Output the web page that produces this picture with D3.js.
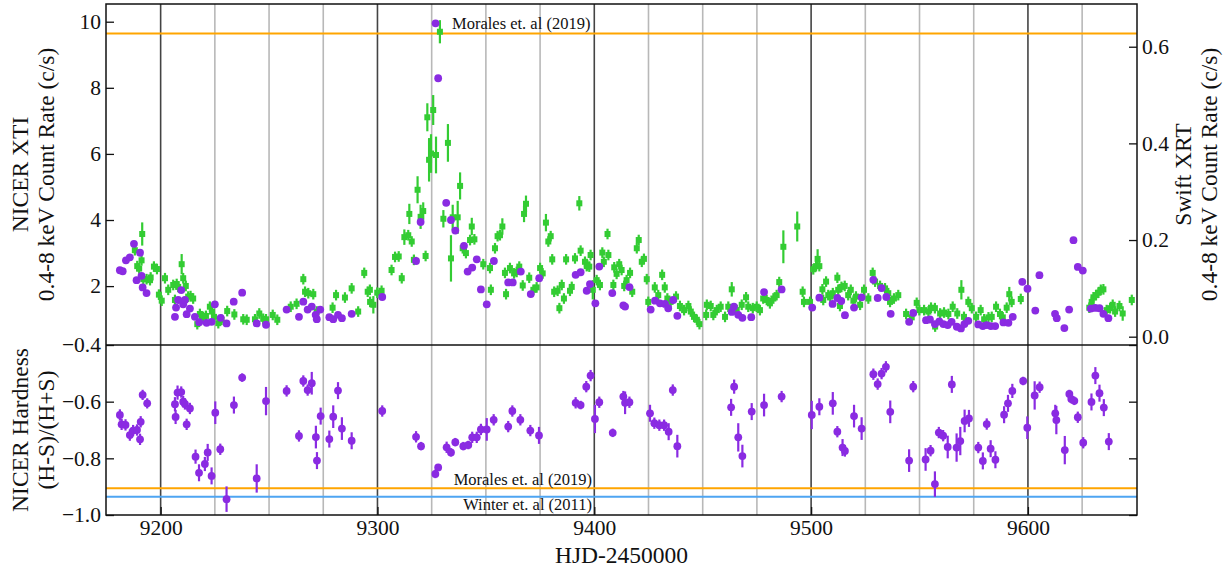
<!DOCTYPE html>
<html><head><meta charset="utf-8">
<script src="https://cdn.jsdelivr.net/npm/d3@7"></script>
<style>body{margin:0;background:#fff}svg{display:block}text{font-family:"Liberation Serif","Times New Roman",Times,serif;fill:#111}</style>
</head><body><svg id="c" width="1232" height="570" font-family="Liberation Serif"></svg>
<script>
// NICER XTI count rate (left axis) : [HJD-2450000, rate c/s]
const nicerDays = [9181.2,9182.5,9184.0,9185.8,9187.7,9188.9,9190.5,9191.2,9191.7,9193.5,9206.6,9207.1,9208.1,9209.5,9210.4,9211.2,9212.0,9213.5,9215.8,9217.8,9221.2,9223.5,9225.0,9227.7,9230.4,9233.7,9237.6,9244.3,9248.6,9258.1,9263.8,9265.8,9267.8,9269.7,9271.5,9272.0,9273.6,9277.8,9279.6,9281.8,9283.6,9288.1,9302.2,9317.8,9319.9,9326.8,9328.0,9331.7,9333.9,9335.9,9339.9,9341.6,9343.7,9345.8,9347.7,9350.4,9353.7,9360.3,9362.4,9366.1,9370.7,9374.6,9391.4,9393.7,9396.5,9398.0,9400.5,9402.3,9408.3,9413.4,9414.2,9416.2,9426.0,9428.0,9430.3,9432.6,9434.1,9436.4,9438.3,9463.4,9464.4,9466.4,9468.3,9472.4,9478.3,9486.4,9500.5,9503.8,9509.9,9512.1,9513.9,9515.6,9519.8,9523.3,9528.7,9530.7,9532.5,9534.7,9536.7,9545.2,9547.1,9553.0,9554.8,9557.1,9559.1,9561.0,9563.0,9564.8,9567.2,9569.1,9570.7,9572.5,9577.1,9579.2,9581.0,9582.9,9584.9,9588.7,9591.0,9593.0,9597.4,9599.8,9603.4,9605.3,9612.5,9613.3,9616.8,9619.0,9621.0,9623.0,9625.3,9629.0,9631.0,9633.0,9634.8,9637.1];
const nicerRate = [2.48,2.45,2.78,2.87,3.28,2.18,3.01,2.31,1.96,1.79,1.07,1.35,1.58,1.88,1.45,1.58,1.15,1.32,1.07,0.91,0.89,0.92,1.45,1.04,0.87,1.53,1.80,0.87,0.83,1.29,1.07,1.53,1.29,1.38,1.13,1.00,1.29,1.06,1.00,1.13,1.03,1.16,1.67,2.76,3.94,9.95,8.29,4.52,4.00,3.68,3.22,2.44,2.56,2.81,1.90,1.45,2.76,2.11,2.11,2.44,1.76,2.24,2.34,2.42,1.86,2.06,1.48,2.59,1.79,1.42,1.38,1.97,1.29,1.56,1.48,1.46,1.33,1.58,1.10,1.22,1.38,1.13,1.04,1.06,1.82,1.90,1.35,1.65,1.46,1.64,1.55,1.12,1.35,1.66,2.19,1.64,1.94,1.67,1.16,0.92,1.19,0.97,0.99,0.85,0.93,0.85,0.82,0.92,0.77,0.72,0.85,0.95,0.84,0.79,0.82,0.79,0.79,0.90,0.89,1.07,2.13,1.92,1.26,2.33,1.16,1.03,0.73,1.29,3.39,2.58,2.47,1.32,1.34,1.33,1.16,1.03];

// Swift XRT count rate (right axis)
const swiftDays = [9188.1,9189.2,9190.1,9191.2,9191.5,9192.0,9193.5,9195.1,9195.4,9196.9,9198.3,9199.2,9200.5,9202.0,9203.5,9205.8,9206.6,9207.4,9208.1,9209.7,9210.4,9211.6,9212.7,9213.8,9215.0,9216.9,9218.1,9219.6,9220.9,9222.7,9223.7,9224.6,9226.6,9228.1,9230.7,9234.0,9238.1,9239.7,9243.5,9245.5,9247.3,9248.6,9251.7,9253.8,9260.0,9262.7,9265.8,9266.6,9268.1,9270.4,9272.0,9279.3,9280.9,9285.0,9288.1,9291.1,9293.9,9295.5,9296.5,9296.6,9298.1,9299.9,9301.9,9306.5,9308.1,9309.8,9311.2,9312.4,9314.2,9314.7,9315.8,9316.8,9318.5,9319.9,9321.1,9322.2,9323.0,9323.8,9324.7,9325.7,9327.0,9328.8,9330.4,9332.5,9333.9,9334.7,9337.0,9338.1,9339.3,9340.8,9342.7,9343.5,9344.7,9348.8,9351.9,9352.3,9354.2,9355.4,9356.5,9357.6,9358.8,9359.3,9361.1,9363.0,9364.2,9365.4,9367.0,9367.6,9368.5,9370.0,9371.9,9373.4,9375.0,9376.2,9377.7,9378.8,9379.9,9380.6,9381.5,9383.1,9383.9,9385.0,9386.0,9387.0,9388.8,9389.6,9391.1,9393.1,9393.7,9395.7,9396.5,9396.8,9397.7,9398.3,9399.3,9401.1,9402.6,9403.7,9404.4,9406.1,9406.5,9408.8,9409.2,9410.3,9411.5,9412.6,9413.8,9414.9,9416.5,9417.5,9419.6,9420.5,9421.9,9422.9,9424.2,9424.9,9427.9,9429.5,9431.3,9432.5,9433.7,9435.2,9437.7,9439.5,9441.4,9443.4,9444.5,9446.0,9447.3,9448.5,9451.6,9451.9,9453.7,9454.9,9456.5,9458.3,9460.3,9461.8,9463.4,9465.7,9468.0,9470.0,9471.0,9473.1,9474.9,9476.4,9477.9,9479.5,9481.0,9482.6,9484.1,9485.3,9487.2,9493.6,9496.1,9496.7,9499.5,9501.0,9502.3,9503.0,9503.8,9505.2,9505.6,9506.9,9507.9,9508.8,9510.0,9512.1,9512.5,9513.3,9514.0,9515.5,9517.1,9518.3,9519.5,9520.7,9522.6,9524.4,9526.4,9528.4,9529.5,9531.8,9534.1,9535.6,9536.4,9538.2,9540.2,9543.8,9546.4,9548.7,9549.9,9552.1,9554.1,9555.3,9557.1,9557.2,9559.5,9561.3,9563.3,9565.3,9567.4,9569.3,9570.5,9572.5,9574.1,9576.1,9578.2,9579.8,9581.8,9583.3,9585.3,9587.1,9588.4,9590.2,9591.4,9592.5,9596.7,9628.3,9629.4,9630.2,9631.4,9632.5,9633.6,9634.8,9636.3,9637.9,9639.1,9640.2,9642.2,9643.7,9647.9];
const swiftRate = [0.179,0.146,0.141,0.158,0.2125,0.119,0.119,0.117,0.1225,0.145,0.140,0.087,0.0745,0.121,0.097,0.107,0.076,0.109,0.103,0.150,0.121,0.105,0.083,0.084,0.079,0.026,0.047,0.041,0.043,0.062,0.052,0.041,0.028,0.035,0.053,0.046,0.036,0.035,0.036,0.048,0.037,0.036,0.045,0.035,0.062,0.068,0.119,0.093,0.090,0.088,0.052,0.060,0.086,0.081,0.100,0.052,0.132,0.093,0.097,0.072,0.066,0.091,0.095,0.138,0.165,0.166,0.121,0.206,0.210,0.254,0.197,0.159,0.304,0.248,0.260,0.167,0.454,0.366,0.379,0.469,0.376,0.631,0.244,0.401,0.162,0.247,0.247,0.312,0.183,0.173,0.200,0.228,0.2015,0.150,0.142,0.097,0.183,0.208,0.210,0.228,0.132,0.088,0.142,0.131,0.134,0.145,0.106,0.254,0.275,0.122,0.097,0.102,0.142,0.131,0.236,0.197,0.208,0.160,0.093,0.095,0.059,0.107,0.079,0.160,0.095,0.103,0.162,0.276,0.178,0.155,0.146,0.148,0.145,0.169,0.097,0.117,0.107,0.174,0.155,0.2125,0.169,0.107,0.1435,0.130,0.150,0.138,0.105,0.117,0.132,0.093,0.183,0.200,0.155,0.161,0.119,0.072,0.102,0.086,0.128,0.102,0.079,0.072,0.083,0.0635,0.055,0.0635,0.052,0.041,0.035,0.026,0.045,0.066,0.0635,0.045,0.055,0.062,0.041,0.062,0.098,0.055,0.066,0.0815,0.062,0.059,0.062,0.055,0.079,0.076,0.069,0.079,0.086,0.113,0.186,0.228,0.093,0.072,0.072,0.1395,0.146,0.161,0.146,0.098,0.076,0.114,0.086,0.083,0.090,0.122,0.097,0.0635,0.103,0.105,0.086,0.097,0.0745,0.083,0.066,0.097,0.079,0.132,0.114,0.105,0.100,0.090,0.072,0.079,0.086,0.047,0.040,0.070,0.055,0.055,0.052,0.060,0.059,0.021,0.048,0.050,0.047,0.062,0.048,0.097,0.041,0.072,0.059,0.041,0.055,0.036,0.040,0.041,0.062,0.047,0.040,0.060,0.088,0.072,0.078,0.060,0.072,0.0815,0.086,0.091,0.097,0.098,0.055,0.059,0.066,0.052,0.0635,0.048,0.076];
// larger Swift error bars (half errors); others use the default
const swiftBigErrDays = [9191.5,9209.7,9298.1,9312.4,9314.7,9318.5,9319.9,9321.1,9323.0,9323.8,9324.7,9325.7,9327.0,9328.8,9330.4,9332.5,9333.9,9334.7,9337.0,9338.1,9343.5,9357.6,9367.6,9368.5,9377.7,9393.1,9399.3,9463.4,9487.2,9493.6,9503.0,9569.3,9591.4,9643.7];
const swiftBigErr    = [0.024,0.021,0.018,0.016,0.021,0.028,0.025,0.018,0.029,0.045,0.040,0.031,0.038,0.024,0.018,0.039,0.048,0.026,0.034,0.028,0.018,0.017,0.017,0.017,0.018,0.015,0.02,0.015,0.034,0.031,0.02,0.02,0.015,0.015];
const swiftDefaultErr = 0.011;

// NICER hardness ratio (H-S)/(H+S)
const hardDays = [9181.2,9182.0,9183.8,9185.8,9187.3,9189.1,9190.5,9190.8,9191.7,9193.8,9206.6,9206.9,9207.8,9209.5,9210.4,9211.2,9212.0,9213.5,9216.1,9217.7,9220.4,9221.7,9223.5,9225.2,9227.5,9230.4,9233.8,9237.6,9244.3,9248.6,9258.1,9263.8,9265.8,9267.8,9269.7,9271.6,9272.1,9273.8,9277.8,9279.6,9281.8,9283.6,9288.1,9302.2,9317.8,9320.1,9326.7,9328.0,9331.9,9333.9,9335.9,9339.6,9341.9,9343.7,9345.8,9347.7,9350.4,9353.6,9360.3,9362.2,9365.9,9370.5,9374.5,9391.4,9393.7,9396.3,9398.3,9400.3,9402.3,9408.5,9413.4,9414.2,9416.2,9425.7,9427.7,9430.0,9432.2,9434.3,9436.2,9438.3,9463.1,9464.5,9466.4,9468.3,9472.6,9478.3,9486.4,9500.3,9503.8,9510.0,9512.1,9514.5,9515.6,9519.8,9523.3,9528.7,9530.7,9532.5,9534.5,9536.5,9545.2,9547.1,9552.8,9555.1,9557.1,9558.9,9560.9,9563.0,9564.9,9567.1,9568.8,9570.8,9572.8,9577.1,9579.2,9581.0,9582.8,9585.0,9589.0,9590.8,9592.8,9597.8,9599.7,9603.1,9605.4,9612.6,9613.1,9617.0,9619.1,9620.0,9621.4,9623.0,9625.5,9629.3,9631.1,9633.0,9635.0,9637.3];
const hardValue = [-0.647,-0.680,-0.682,-0.718,-0.702,-0.700,-0.733,-0.671,-0.576,-0.606,-0.609,-0.654,-0.568,-0.566,-0.600,-0.608,-0.680,-0.624,-0.794,-0.851,-0.820,-0.779,-0.862,-0.639,-0.768,-0.944,-0.612,-0.515,-0.871,-0.598,-0.562,-0.721,-0.527,-0.559,-0.535,-0.725,-0.808,-0.651,-0.732,-0.653,-0.561,-0.695,-0.738,-0.633,-0.724,-0.757,-0.855,-0.832,-0.761,-0.779,-0.743,-0.757,-0.753,-0.726,-0.726,-0.698,-0.698,-0.664,-0.688,-0.633,-0.664,-0.702,-0.719,-0.604,-0.612,-0.547,-0.508,-0.661,-0.602,-0.710,-0.582,-0.604,-0.602,-0.641,-0.676,-0.683,-0.683,-0.706,-0.559,-0.757,-0.620,-0.547,-0.726,-0.792,-0.635,-0.612,-0.582,-0.647,-0.618,-0.606,-0.706,-0.762,-0.774,-0.651,-0.695,-0.503,-0.538,-0.501,-0.477,-0.636,-0.808,-0.547,-0.804,-0.773,-0.891,-0.709,-0.720,-0.760,-0.539,-0.762,-0.739,-0.668,-0.659,-0.762,-0.809,-0.679,-0.766,-0.805,-0.646,-0.606,-0.562,-0.527,-0.692,-0.578,-0.549,-0.641,-0.665,-0.771,-0.573,-0.591,-0.597,-0.655,-0.745,-0.601,-0.508,-0.570,-0.621,-0.741];
const hardErr = [0.02,0.02,0.02,0.02,0.02,0.02,0.02,0.02,0.018,0.018,0.025,0.025,0.025,0.02,0.02,0.02,0.02,0.02,0.025,0.03,0.025,0.03,0.03,0.04,0.02,0.045,0.03,0.015,0.05,0.05,0.02,0.02,0.02,0.02,0.04,0.04,0.03,0.03,0.03,0.04,0.03,0.04,0.03,0.02,0.02,0.015,0.015,0.01,0.02,0.015,0.015,0.015,0.015,0.02,0.02,0.02,0.04,0.02,0.02,0.02,0.02,0.02,0.03,0.02,0.015,0.02,0.02,0.05,0.02,0.015,0.02,0.04,0.02,0.03,0.02,0.02,0.02,0.03,0.02,0.04,0.03,0.025,0.05,0.04,0.03,0.04,0.02,0.05,0.03,0.04,0.02,0.03,0.02,0.04,0.04,0.02,0.02,0.02,0.02,0.04,0.04,0.02,0.04,0.02,0.045,0.02,0.02,0.04,0.03,0.05,0.05,0.04,0.03,0.02,0.03,0.02,0.03,0.03,0.03,0.03,0.025,0.015,0.04,0.05,0.02,0.03,0.05,0.05,0.015,0.015,0.015,0.02,0.02,0.03,0.03,0.03,0.03,0.03];

// reference levels
const moralesRate = 9.64;
const moralesHard = -0.906;
const winterHard = -0.936;
const xTicks = [9200,9300,9400,9500,9600];
const leftTicks = [2,4,6,8,10];
const rightTicks = [0.0,0.2,0.4,0.6];
const hardTicks = [-0.4,-0.6,-0.8,-1.0];

const FONT = "Liberation Serif";
const svg = d3.select("#c");
const L=106,R=1137,T=4,M=345,B=515;
const x = d3.scaleLinear().domain([9174.8,9650.3]).range([L,R]);
const yL = d3.scaleLinear().domain([0.218,10.536]).range([M,T]);
const yR = d3.scaleLinear().domain([-0.0172,0.6884]).range([M,T]);
const yH = d3.scaleLinear().domain([-1.0,-0.4]).range([B,M]);

const purple="#8a2be2", green="#33cc33", orange="#ffa500", blue="#4ea5f2";

// grid lines every 25 days, darker at hundreds
const gridDays = d3.range(9200,9650,25);
svg.append("g").selectAll("line").data(gridDays).join("line")
  .attr("x1",d=>x(d)).attr("x2",d=>x(d)).attr("y1",T).attr("y2",B)
  .attr("stroke",d=>d%100===0?"#444":"#b8b8b8").attr("stroke-width",1.6);

// reference lines
svg.append("line").attr("x1",L).attr("x2",R).attr("y1",yL(moralesRate)).attr("y2",yL(moralesRate)).attr("stroke",orange).attr("stroke-width",2);
svg.append("line").attr("x1",L).attr("x2",R).attr("y1",yH(moralesHard)).attr("y2",yH(moralesHard)).attr("stroke",orange).attr("stroke-width",2);
svg.append("line").attr("x1",L).attr("x2",R).attr("y1",yH(winterHard)).attr("y2",yH(winterHard)).attr("stroke",blue).attr("stroke-width",2);

// Swift points
const swift = swiftDays.map((d,i)=>{const k=swiftBigErrDays.indexOf(d);return {d, v:swiftRate[i], e:k>=0?swiftBigErr[k]:swiftDefaultErr};});
const gS = svg.append("g");
gS.selectAll("line").data(swift).join("line")
  .attr("x1",p=>x(p.d)).attr("x2",p=>x(p.d)).attr("y1",p=>yR(p.v-p.e)).attr("y2",p=>yR(p.v+p.e))
  .attr("stroke",green).attr("stroke-width",2.2);
gS.selectAll("rect").data(swift).join("rect")
  .attr("x",p=>x(p.d)-3).attr("y",p=>yR(p.v)-3).attr("width",6).attr("height",6).attr("fill",green);

// NICER rate points
svg.append("g").selectAll("circle").data(nicerDays.map((d,i)=>({d,v:nicerRate[i]}))).join("circle")
  .attr("cx",p=>x(p.d)).attr("cy",p=>yL(p.v)).attr("r",3.9).attr("fill",purple);

// hardness
const hard = hardDays.map((d,i)=>({d,v:hardValue[i],e:hardErr[i]}));
const gH = svg.append("g");
gH.selectAll("line").data(hard).join("line")
  .attr("x1",p=>x(p.d)).attr("x2",p=>x(p.d)).attr("y1",p=>yH(p.v-p.e)).attr("y2",p=>yH(p.v+p.e))
  .attr("stroke",purple).attr("stroke-width",2.2);
gH.selectAll("circle").data(hard).join("circle")
  .attr("cx",p=>x(p.d)).attr("cy",p=>yH(p.v)).attr("r",3.9).attr("fill",purple);

// annotations
svg.append("text").attr("x",452).attr("y",yL(moralesRate)-5).attr("font-size",16.5).text("Morales et. al (2019)");
svg.append("text").attr("x",592).attr("y",yH(moralesHard)-3.5).attr("text-anchor","end").attr("font-size",16.5).text("Morales et. al (2019)");
svg.append("text").attr("x",592).attr("y",yH(winterHard)+13.5).attr("text-anchor","end").attr("font-size",16.5).text("Winter et. al (2011)");

// axes
function style(g){g.attr("font-family",FONT);g.select(".domain").remove();g.selectAll(".tick line").attr("stroke","#111").attr("stroke-width",1.3);g.selectAll("text").attr("font-size",21.5).attr("font-family",FONT).attr("fill","#111");}
svg.append("g").attr("transform",`translate(${L},0)`).call(d3.axisLeft(yL).tickValues(leftTicks).tickFormat(d3.format("d")).tickSizeInner(-8).tickSizeOuter(0).tickPadding(5)).call(style);
svg.append("g").attr("transform",`translate(${R},0)`).call(d3.axisRight(yR).tickValues(rightTicks).tickFormat(d3.format(".1f")).tickSizeInner(-8).tickSizeOuter(0).tickPadding(5)).call(style);
svg.append("g").attr("transform",`translate(${L},0)`).call(d3.axisLeft(yH).tickValues(hardTicks).tickFormat(d3.format(".1f")).tickSizeInner(-8).tickSizeOuter(0).tickPadding(5)).call(style);
svg.append("g").attr("transform",`translate(${R},0)`).call(d3.axisRight(yH).tickValues(hardTicks).tickFormat("").tickSizeInner(-8).tickSizeOuter(0)).call(style);
svg.append("g").attr("transform",`translate(0,${B})`).call(d3.axisBottom(x).tickValues(xTicks).tickFormat(d3.format("d")).tickSizeInner(-8).tickSizeOuter(0).tickPadding(5)).call(style);

// frames
svg.append("rect").attr("x",L).attr("y",T).attr("width",R-L).attr("height",B-T).attr("fill","none").attr("stroke","#111").attr("stroke-width",1.5);
svg.append("line").attr("x1",L).attr("x2",R).attr("y1",M).attr("y2",M).attr("stroke","#111").attr("stroke-width",1.5);

// titles
function vtitle(cx,cy,lines){const t=svg.append("text").attr("transform",`translate(${cx},${cy}) rotate(-90)`).attr("text-anchor","middle").attr("font-size",23.5).attr("font-family",FONT);
  lines.forEach((s,i)=>t.append("tspan").attr("x",0).attr("dy",i===0?0:25.5).text(s));}
vtitle(28,(T+M)/2,["NICER XTI","0.4-8 keV Count Rate (c/s)"]);
vtitle(28,(M+B)/2,["NICER Hardness","(H-S)/(H+S)"]);
vtitle(1191,(T+M)/2,["Swift XRT","0.4-8 keV Count Rate (c/s)"]);
svg.append("text").attr("x",(L+R)/2).attr("y",563).attr("text-anchor","middle").attr("font-size",23.5).attr("font-family",FONT).text("HJD-2450000");
</script></body></html>
